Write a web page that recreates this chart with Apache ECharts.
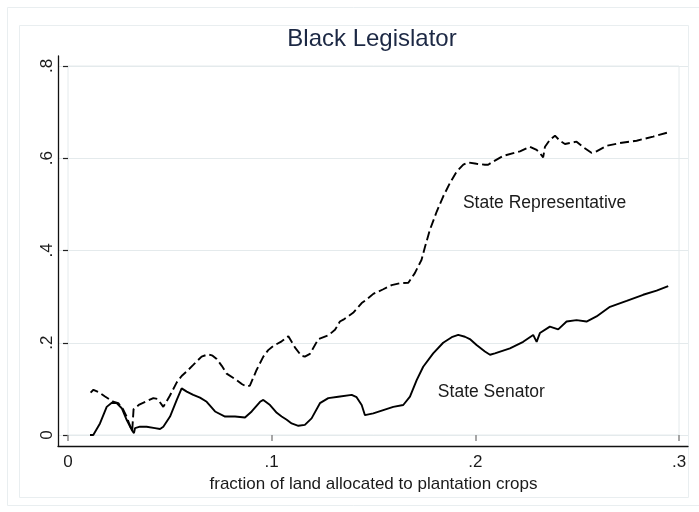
<!DOCTYPE html>
<html>
<head>
<meta charset="utf-8">
<script src="https://cdn.jsdelivr.net/npm/echarts@6/dist/echarts.min.js"></script>
<style>
  html, body { margin: 0; padding: 0; background: #ffffff; }
  #chart { width: 699px; height: 512px; }
</style>
</head>
<body>
<div id="chart"></div>
<script>
// Share of black legislators by fraction of land in plantation crops
const titleText = 'Black Legislator';
const xTitle = 'fraction of land allocated to plantation crops';

const xTicks = [0, 0.1, 0.2, 0.3];
const yTicks = [0, 0.2, 0.4, 0.6, 0.8];

// State Representative (dashed)
const repX = [0.0111, 0.0125, 0.015, 0.018, 0.0222, 0.0247, 0.027, 0.0288, 0.030, 0.0315, 0.0318, 0.0322,
  0.035, 0.038, 0.0419, 0.044, 0.045, 0.0468, 0.050, 0.0534, 0.0558, 0.0583, 0.0615, 0.0656, 0.0689, 0.071,
  0.073, 0.0755, 0.0779, 0.0828, 0.0855, 0.0877, 0.0893, 0.0926, 0.0959, 0.0983, 0.1008, 0.1049, 0.1082,
  0.1114, 0.1145, 0.1163, 0.1188, 0.1229, 0.1278, 0.1311, 0.1335, 0.1352, 0.140, 0.1442, 0.1467, 0.1499,
  0.1548, 0.1589, 0.163, 0.1671, 0.1703, 0.1736, 0.1753, 0.1777, 0.181, 0.1842, 0.1875, 0.1908, 0.1941,
  0.1965, 0.2006, 0.2047, 0.2063, 0.208, 0.2137, 0.2219, 0.2268, 0.2301, 0.2317, 0.2333, 0.2342, 0.2366,
  0.2391, 0.2415, 0.244, 0.2464, 0.2497, 0.253, 0.257, 0.2595, 0.2645, 0.271, 0.2792, 0.2873, 0.2947];
const repY = [0.092, 0.098, 0.093, 0.084, 0.072, 0.069, 0.056, 0.040, 0.025, 0.008, 0.004, 0.056,
  0.066, 0.072, 0.080, 0.078, 0.072, 0.061, 0.085, 0.114, 0.128, 0.138, 0.152, 0.170, 0.175, 0.172,
  0.165, 0.150, 0.133, 0.119, 0.110, 0.105, 0.107, 0.141, 0.170, 0.184, 0.193, 0.203, 0.214,
  0.190, 0.172, 0.170, 0.176, 0.208, 0.216, 0.228, 0.246, 0.250, 0.265, 0.286, 0.294, 0.306,
  0.316, 0.325, 0.329, 0.330, 0.351, 0.380, 0.408, 0.445, 0.484, 0.517, 0.546, 0.571, 0.586,
  0.591, 0.588, 0.586, 0.586, 0.591, 0.605, 0.615, 0.625, 0.618, 0.611, 0.602, 0.625, 0.640,
  0.649, 0.638, 0.631, 0.633, 0.636, 0.624, 0.612, 0.615, 0.627, 0.633, 0.638, 0.647, 0.656];

// State Senator (solid)
const senX = [0.0108, 0.0124, 0.0157, 0.019, 0.0215, 0.0239, 0.0264, 0.0288, 0.0313, 0.0324, 0.0329, 0.0353,
  0.0386, 0.0427, 0.0452, 0.0468, 0.0501, 0.0534, 0.0558, 0.0583, 0.0615, 0.0648, 0.0681, 0.0722, 0.0771,
  0.082, 0.0869, 0.0902, 0.0943, 0.0959, 0.0992, 0.1025, 0.1049, 0.1074, 0.1098, 0.1131, 0.1163, 0.1196,
  0.1237, 0.1278, 0.1327, 0.1393, 0.1417, 0.1442, 0.1458, 0.1499, 0.1548, 0.1597, 0.1646, 0.1679, 0.1712,
  0.1744, 0.1793, 0.1842, 0.1884, 0.1916, 0.1949, 0.1973, 0.2006, 0.2047, 0.2072, 0.2096, 0.217, 0.2235,
  0.2284, 0.2301, 0.2317, 0.2366, 0.2407, 0.2448, 0.2497, 0.2546, 0.2595, 0.2661, 0.2743, 0.2824, 0.289, 0.2947];
const senY = [0, 0, 0.025, 0.061, 0.070, 0.069, 0.058, 0.033, 0.011, 0.004, 0.015, 0.018,
  0.018, 0.015, 0.013, 0.018, 0.040, 0.076, 0.101, 0.094, 0.087, 0.081, 0.072, 0.051, 0.040,
  0.040, 0.038, 0.051, 0.072, 0.076, 0.065, 0.048, 0.040, 0.033, 0.025, 0.020, 0.022, 0.036,
  0.069, 0.080, 0.083, 0.087, 0.082, 0.065, 0.043, 0.047, 0.054, 0.061, 0.065, 0.083, 0.119,
  0.148, 0.177, 0.200, 0.212, 0.217, 0.213, 0.208, 0.195, 0.181, 0.174, 0.177, 0.188, 0.202,
  0.217, 0.202, 0.221, 0.235, 0.229, 0.246, 0.249, 0.246, 0.257, 0.278, 0.291, 0.304, 0.313, 0.323];

// Where the series names are written (data units, left edge of text)
const repLabelAt = [0.1939, 0.503];
const senLabelAt = [0.1816, 0.093];

const FONT = "'Liberation Sans', Arial, sans-serif";
const GRID_GREY = '#e4eaec';
const fmt = v => (v === 0 ? '0' : '.' + Math.round(v * 10));
const zip = (xs, ys) => xs.map((x, i) => [x, ys[i]]);

const chart = echarts.init(document.getElementById('chart'), null, { renderer: 'canvas' });

chart.setOption({
  animation: false,
  backgroundColor: '#ffffff',
  textStyle: { fontFamily: FONT },
  title: {
    text: titleText,
    left: 367,
    top: 22,
    textAlign: 'center',
    textStyle: { fontFamily: FONT, fontSize: 24, fontWeight: 'normal', color: '#1c2844' }
  },
  graphic: [
    { type: 'rect', silent: true, z: -10, shape: { x: 7.5, y: 7.5, width: 700, height: 498 },
      style: { fill: 'none', stroke: '#e9eef0', lineWidth: 1 } },
    { type: 'rect', silent: true, z: -10, shape: { x: 19.5, y: 25.5, width: 669, height: 472 },
      style: { fill: 'none', stroke: '#e9eef0', lineWidth: 1 } }
  ],
  grid: [
    { left: 68, right: 20, top: 66, bottom: 77, show: true, borderColor: GRID_GREY, borderWidth: 1,
      backgroundColor: 'transparent' },
    { left: 58, right: 11, top: 66, bottom: 77 },
    { left: 58, right: 11, top: 56, bottom: 66 }
  ],
  xAxis: [
    {
      type: 'value', gridIndex: 0, min: xTicks[0], max: xTicks[xTicks.length - 1], interval: 0.1,
      offset: 11,
      axisLine: { show: false },
      axisTick: { show: true, length: 6, lineStyle: { color: '#8a8a8a', width: 1.5 } },
      axisLabel: { fontSize: 17, color: '#1a1a1a', margin: 8, formatter: fmt },
      splitLine: { show: false },
      name: xTitle, nameLocation: 'middle', nameGap: 21,
      nameTextStyle: { fontSize: 17, color: '#1a1a1a', fontFamily: FONT }
    },
    { type: 'value', gridIndex: 1, min: 0, max: 1, show: false },
    {
      type: 'value', gridIndex: 2, min: 0, max: 1, position: 'bottom',
      axisLine: { show: true, onZero: false, lineStyle: { color: '#111', width: 1.3 } },
      axisTick: { show: false }, axisLabel: { show: false }, splitLine: { show: false }
    }
  ],
  yAxis: [
    {
      type: 'value', gridIndex: 0, min: yTicks[0], max: yTicks[yTicks.length - 1], interval: 0.2,
      offset: 10,
      axisLine: { show: false },
      axisTick: { show: true, length: 5, lineStyle: { color: '#222', width: 1.2 } },
      axisLabel: { fontSize: 17, color: '#1a1a1a', margin: 2, rotate: 90, formatter: fmt },
      splitLine: { show: false }
    },
    {
      type: 'value', gridIndex: 1, min: yTicks[0], max: yTicks[yTicks.length - 1], interval: 0.2,
      axisLine: { show: false }, axisTick: { show: false }, axisLabel: { show: false },
      splitLine: { show: true, lineStyle: { color: GRID_GREY, width: 1.2 } }
    },
    {
      type: 'value', gridIndex: 2, min: 0, max: 1, position: 'left',
      axisLine: { show: true, onZero: false, lineStyle: { color: '#111', width: 1.3 } },
      axisTick: { show: false }, axisLabel: { show: false }, splitLine: { show: false }
    }
  ],
  series: [
    {
      name: 'State Representative',
      type: 'line', xAxisIndex: 0, yAxisIndex: 0,
      data: zip(repX, repY),
      showSymbol: false, symbol: 'none',
      lineStyle: { color: '#000', width: 1.9, type: [9, 4] },
      markPoint: {
        symbol: 'circle', symbolSize: 0, silent: true,
        label: { show: true, position: 'right', distance: 0, fontSize: 17.5, color: '#1a1a1a',
          fontFamily: FONT, formatter: 'State Representative' },
        data: [{ coord: repLabelAt }]
      }
    },
    {
      name: 'State Senator',
      type: 'line', xAxisIndex: 0, yAxisIndex: 0,
      data: zip(senX, senY),
      showSymbol: false, symbol: 'none',
      lineStyle: { color: '#000', width: 1.9 },
      markPoint: {
        symbol: 'circle', symbolSize: 0, silent: true,
        label: { show: true, position: 'right', distance: 0, fontSize: 17.5, color: '#1a1a1a',
          fontFamily: FONT, formatter: 'State Senator' },
        data: [{ coord: senLabelAt }]
      }
    }
  ]
});
</script>
</body>
</html>
